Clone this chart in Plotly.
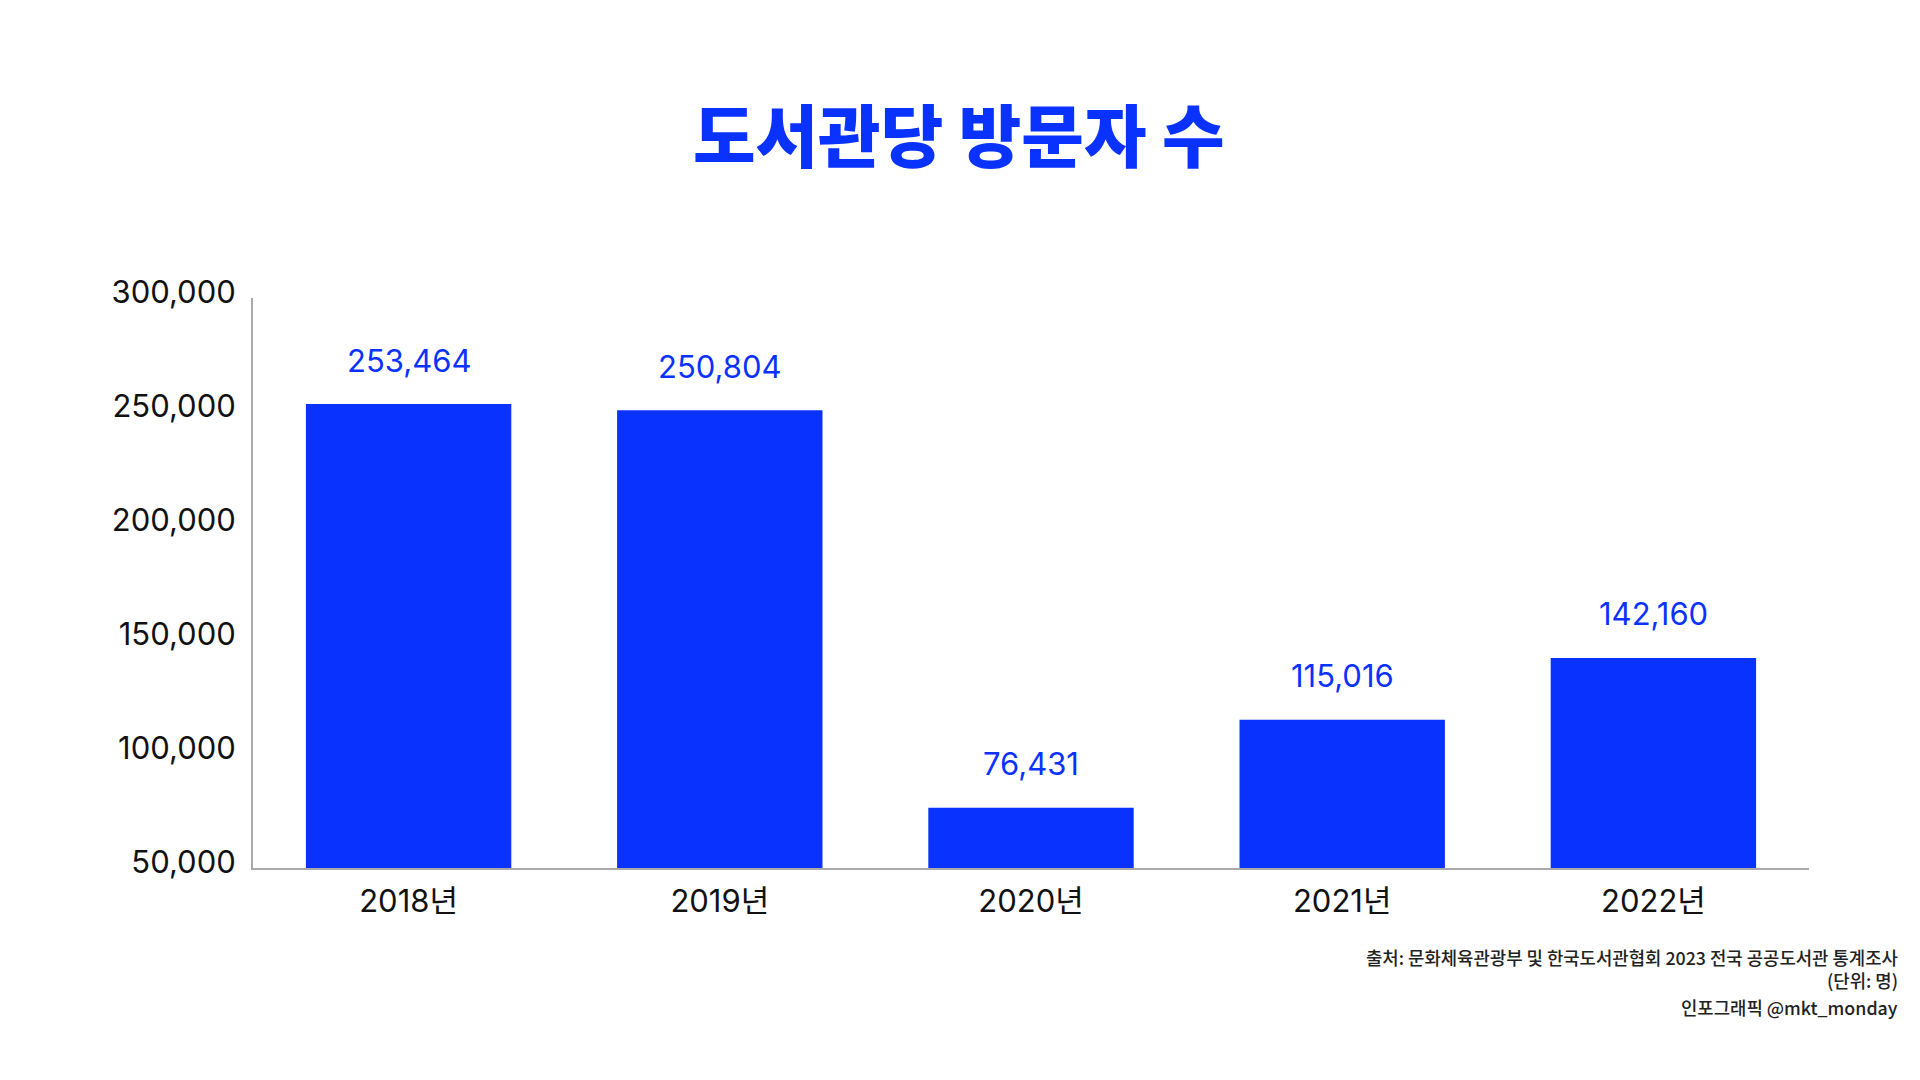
import plotly.graph_objects as go

years = ["2018년", "2019년", "2020년", "2021년", "2022년"]
visitors = [253464, 250804, 76431, 115016, 142160]
value_labels = ["253,464", "250,804", "76,431", "115,016", "142,160"]
y_ticks = [50000, 100000, 150000, 200000, 250000, 300000]
y_tick_labels = ["50,000", "100,000", "150,000", "200,000", "250,000", "300,000"]

title_text = "도서관당 방문자 수"
source_text = "출처: 문화체육관광부 및 한국도서관협회 2023 전국 공공도서관 통계조사"
unit_text = "(단위: 명)"
credit_text = "인포그래픽 @mkt_monday"

BLUE = "#0a32ff"
FONT = "Inter, 'Noto Sans CJK KR', sans-serif"
KFONT = "'Noto Sans CJK KR', sans-serif"

# page body has an 8px margin, so figure coords = page coords - 8
L, T, W, H = 245, 290, 1912, 1072
PW, PH = 1556, 570
R = W - L - PW
B = H - T - PH

def px_x(x):
    return (x - 8 - L) / PW

def px_y(y):
    return (T + PH - (y - 8)) / PH

fig = go.Figure()
fig.add_trace(go.Bar(
    x=years, y=visitors, marker=dict(color=BLUE, line=dict(width=0)),
    hoverinfo="skip", showlegend=False,
))

for x, y, t in zip(years, visitors, value_labels):
    fig.add_annotation(x=x, y=y, text=t, showarrow=False, yanchor="middle",
                       yshift=44, font=dict(family=FONT, size=31, color=BLUE))

fig.add_annotation(text=title_text, xref="paper", yref="paper",
                   x=px_x(959), y=px_y(132),
                   xanchor="center", yanchor="middle", showarrow=False,
                   font=dict(family=KFONT, size=68, color=BLUE, weight=900))

for txt, ypx in [(source_text, 957), (unit_text, 980), (credit_text, 1007)]:
    fig.add_annotation(text=txt, xref="paper", yref="paper",
                       x=px_x(1900), y=px_y(ypx),
                       xanchor="right", yanchor="middle", showarrow=False,
                       font=dict(family=KFONT, size=17.8, color="#222222", weight=500))

fig.update_layout(
    width=W, height=H,
    margin=dict(l=L, r=R, t=T, b=B),
    paper_bgcolor="white", plot_bgcolor="white",
    bargap=0.34,
    font=dict(family=FONT, color="#111111"),
)
fig.update_xaxes(showline=True, linecolor="#aaaaaa", linewidth=2, ticks="",
                 showgrid=False, tickfont=dict(family=FONT, size=31, color="#111111"),
                 ticklabelstandoff=5)
fig.update_yaxes(range=[50000, 300000], tickvals=y_ticks, ticktext=y_tick_labels,
                 showline=True, linecolor="#aaaaaa", linewidth=2, ticks="",
                 showgrid=False, zeroline=False,
                 tickfont=dict(family=FONT, size=31, color="#111111"),
                 ticklabelstandoff=9, ticklabelshift=-6)

fig.write_html("out.html")
